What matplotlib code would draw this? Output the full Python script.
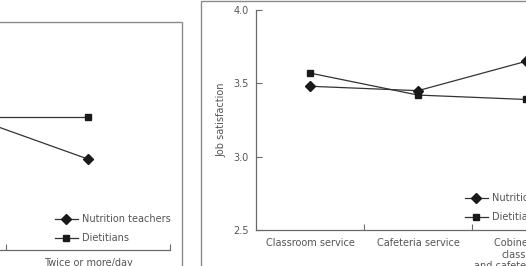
import matplotlib.pyplot as plt
from matplotlib.patches import Rectangle

# left panel (cut off in the reference)
left_cats = ["Once/day", "Twice or more/day"]
left_teachers = [3.52, 3.12]
left_dietitians = [3.41, 3.41]

# right panel
right_cats = ["Classroom service", "Cafeteria service", "Cobined with\nclassroom\nand cafeteria service"]
right_teachers = [3.48, 3.45, 3.65]
right_dietitians = [3.57, 3.42, 3.39]

yticks = [2.5, 3.0, 3.5, 4.0]

W, H = 526, 266
TXT = '#555555'
AX = '#6a6a6a'
LN = '#333333'
FS = 7

plt.rcParams['font.family'] = 'DejaVu Sans'


def px(x0, y0, w, h):
    # pixel box (top-left origin) to figure fraction
    return [x0 / W, (H - y0 - h) / H, w / W, h / H]


def panel(ax, cats, teachers, dietitians, wpx, lift, ylabel=None):
    n = len(cats)
    xs = list(range(n))
    ax.plot(xs, teachers, color=LN, lw=0.9, marker='D', ms=5,
            mfc='#1a1a1a', mec='#1a1a1a', label='Nutrition teachers')
    ax.plot(xs, dietitians, color=LN, lw=0.9, marker='s', ms=5,
            mfc='#1a1a1a', mec='#1a1a1a', label='Dietitians')
    ax.set_xlim(-0.5, n - 0.5)
    ax.set_ylim(2.5, 4.0)
    ax.set_yticks(yticks)
    ax.set_yticklabels([f"{v:.1f}" for v in yticks], fontsize=FS, color=TXT)
    ax.set_xticks([i + 0.5 for i in range(n)])
    ax.set_xticklabels([])
    ax.set_xticks(xs, minor=True)
    ax.set_xticklabels(cats, minor=True, fontsize=FS, color=TXT, linespacing=1.15, va='top')
    ax.tick_params(axis='x', which='minor', length=0, pad=6)
    ax.tick_params(axis='both', which='major', direction='in', length=4, width=0.8, color=AX)
    ax.tick_params(axis='y', pad=5)
    for s in ['top', 'right']:
        ax.spines[s].set_visible(False)
    for s in ['left', 'bottom']:
        ax.spines[s].set_color(AX)
        ax.spines[s].set_linewidth(0.9)
    ax.patch.set_alpha(0)
    if ylabel:
        ax.set_ylabel(ylabel, fontsize=FS, color=TXT, labelpad=5)
    ax.legend(loc='lower right', bbox_to_anchor=(1.0 + 5 / wpx, lift / 220), frameon=False,
              fontsize=FS, labelcolor=TXT, handlelength=2.4, handletextpad=0.45,
              labelspacing=0.9, borderaxespad=0.0)


fig = plt.figure(figsize=(W / 100, H / 100), dpi=100)

# grey frames around each panel
fig.add_artist(Rectangle((-0.5, -0.5), (182 + 263) / W, (H - 22) / H + 0.5,
                         transform=fig.transFigure, fill=False, ec='#8a8a8a', lw=1.0))
fig.add_artist(Rectangle((201 / W, -0.5), 1.0, (H - 1) / H + 0.5,
                         transform=fig.transFigure, fill=False, ec='#8a8a8a', lw=1.0))

ax1 = fig.add_axes(px(-158, 30, 328, 220))
panel(ax1, left_cats, left_teachers, left_dietitians, 328, 3, ylabel='Job satisfaction')

ax2 = fig.add_axes(px(256, 10, 324, 220))
panel(ax2, right_cats, right_teachers, right_dietitians, 324, 4, ylabel='Job satisfaction')

fig.savefig('out.png', dpi=100)
